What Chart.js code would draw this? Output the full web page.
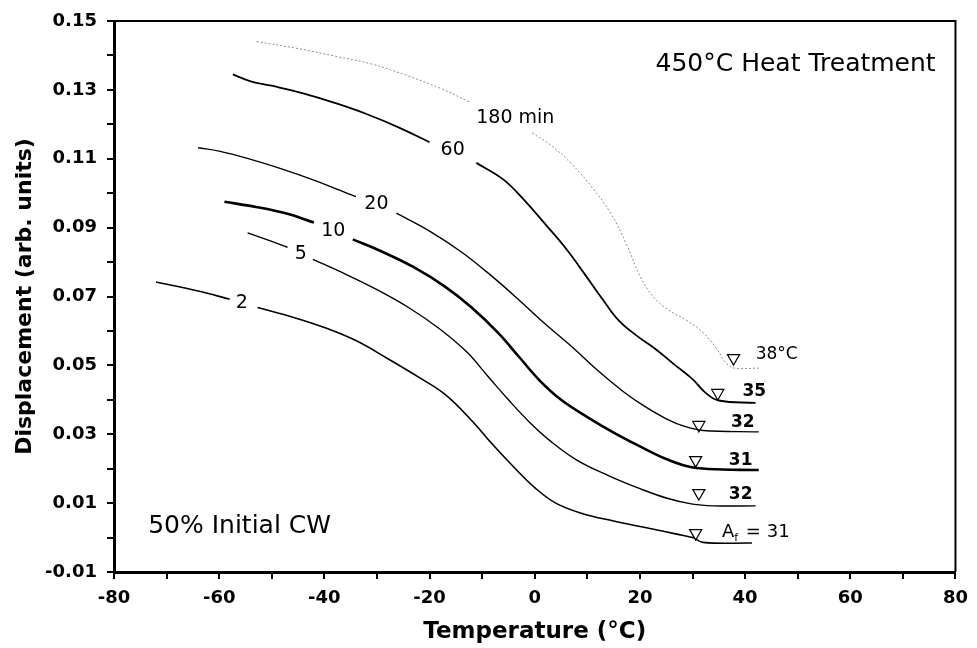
<!DOCTYPE html>
<html>
<head>
<meta charset="utf-8">
<script src="https://cdn.jsdelivr.net/npm/chart.js@4"></script>
<style>
    body { margin: 0; background: #fff; }
    #wrap { width: 977px; height: 648px; }
</style>
</head>
<body>
<div id="wrap"><canvas id="c"></canvas></div>
<script>
// curves: temperature (°C) and displacement, null = gap for the label
const t2X = [-72, -64, -58, -55.7, -52.7, -46, -40, -34, -28, -22, -17, -12, -8, -4, 0, 4, 9, 15, 21, 27, 30, 32, 41.3];
const t2Y = [0.0742, 0.0716, 0.0692, null, 0.0668, 0.0640, 0.0610, 0.0572, 0.0520, 0.0465, 0.0415, 0.0340, 0.0270, 0.0205, 0.0145, 0.0100, 0.0070, 0.0048, 0.0029, 0.0010, 0.0000, -0.0014, -0.0016];

const t5X = [-54.6, -50, -47, -44.5, -42.2, -36, -30, -24, -18, -13, -9, -5, -1, 3, 8, 14, 20, 25, 30, 34, 42];
const t5Y = [0.0885, 0.0860, 0.0843, null, 0.0808, 0.0765, 0.0720, 0.0668, 0.0605, 0.0540, 0.0470, 0.0400, 0.0335, 0.0280, 0.0225, 0.0180, 0.0142, 0.0115, 0.0097, 0.0092, 0.0092];

const t10X = [-59, -53, -47, -42, -38.3, -34.6, -29, -23, -17, -12, -7, -3, 1, 5, 10, 15, 20, 25, 29, 33, 42.6];
const t10Y = [0.0975, 0.0960, 0.0940, 0.0915, null, 0.0866, 0.0830, 0.0785, 0.0728, 0.0668, 0.0595, 0.0525, 0.0455, 0.0400, 0.0350, 0.0305, 0.0265, 0.0228, 0.0207, 0.0199, 0.0196];

const t20X = [-64, -60, -54, -48, -42, -37, -34, -30.1, -26.3, -20, -14, -8, -3, 2, 7, 12, 17, 21, 25, 28.5, 32, 42.6];
const t20Y = [0.1132, 0.1122, 0.1098, 0.1070, 0.1038, 0.1008, 0.0990, null, 0.0942, 0.0890, 0.0830, 0.0757, 0.0690, 0.0620, 0.0555, 0.0485, 0.0422, 0.0380, 0.0345, 0.0323, 0.0311, 0.0307];

const t60X = [-57.4, -54, -50, -44, -38, -32, -26, -20, -15.6, -11.1, -6, -2, 2, 6, 9.5, 13, 16, 19.5, 23, 26.5, 30, 32.5, 35, 42];
const t60Y = [0.1345, 0.1325, 0.1312, 0.1290, 0.1262, 0.1230, 0.1192, 0.1148, null, 0.1088, 0.1040, 0.0980, 0.0910, 0.0838, 0.0765, 0.0690, 0.0630, 0.0585, 0.0547, 0.0503, 0.0460, 0.0420, 0.0398, 0.0391];

const t180X = [-52.9, -45, -38, -31, -24, -18, -12.4, -5, -0.5, 3, 7, 11, 14.5, 17.5, 20, 22.5, 25.5, 29, 32, 34.5, 36.5, 38, 42.6];
const t180Y = [0.1440, 0.1420, 0.1398, 0.1375, 0.1340, 0.1305, 0.1265, null, 0.1175, 0.1140, 0.1085, 0.1015, 0.0940, 0.0850, 0.0760, 0.0700, 0.0660, 0.0630, 0.0595, 0.0550, 0.0505, 0.0492, 0.0492];

// A_f markers (open triangles)
const afX = [30.6, 31.2, 30.6, 31.2, 34.8, 37.8];
const afY = [0.0013, 0.0129, 0.0225, 0.0327, 0.0420, 0.0521];

// labels
const curveNames = ['2', '5', '10', '20', '60', '180 min'];
const curveNameX = [-55.7, -44.5, -38.3, -30.1, -15.6, -3.7];
const curveNameY = [0.0681, 0.0823, 0.0890, 0.0969, 0.1124, 0.1217];
const afNames = ['32', '31', '32', '35'];
const afNameX = [36.9, 36.9, 37.3, 39.5];
const afNameY = [0.0124, 0.0225, 0.0333, 0.0423];

function pts(xs, ys) {
    return xs.map((x, i) => ({ x: x, y: ys[i] }));
}

function curve(xs, ys, w, color, dash) {
    return {
        data: pts(xs, ys),
        borderColor: color || '#000',
        borderWidth: w,
        borderDash: dash || [],
        pointRadius: 0,
        tension: 0.4,
        spanGaps: false
    };
}

const FONT = '"DejaVu Sans", Verdana, sans-serif';

const textPlugin = {
    id: 'texts',
    afterDraw(chart) {
        const { ctx, chartArea: a, scales } = chart;
        const px = v => scales.x.getPixelForValue(v);
        const py = v => scales.y.getPixelForValue(v);
        ctx.save();

        // close the frame (top + right)
        ctx.strokeStyle = '#000';
        ctx.lineWidth = 2;
        ctx.beginPath();
        ctx.moveTo(a.left, a.top);
        ctx.lineTo(a.right, a.top);
        ctx.lineTo(a.right, a.bottom);
        ctx.stroke();

        ctx.fillStyle = '#000';
        ctx.textBaseline = 'middle';

        ctx.font = '19px ' + FONT;
        ctx.textAlign = 'center';
        curveNames.forEach((t, i) => ctx.fillText(t, px(curveNameX[i]), py(curveNameY[i])));

        ctx.textAlign = 'left';
        ctx.font = 'bold 17px ' + FONT;
        afNames.forEach((t, i) => ctx.fillText(t, px(afNameX[i]), py(afNameY[i])));

        ctx.font = '17px ' + FONT;
        ctx.fillText('38°C', px(42), py(0.0530));

        // A_f = 31 with subscript
        let x0 = px(35.6), y0 = py(0.0016);
        ctx.font = '18px ' + FONT;
        ctx.fillText('A', x0, y0);
        let w = ctx.measureText('A').width;
        ctx.font = '11px ' + FONT;
        ctx.fillText('f', x0 + w, y0 + 6);
        w += ctx.measureText('f').width + 2;
        ctx.font = '18px ' + FONT;
        ctx.fillText(' = 31', x0 + w, y0);

        ctx.font = '25px ' + FONT;
        ctx.textAlign = 'center';
        ctx.fillText('450°C Heat Treatment', px(49.6), py(0.1374));
        ctx.textAlign = 'left';
        ctx.fillText('50% Initial CW', px(-73.5), py(0.0033));

        ctx.restore();
    }
};

new Chart(document.getElementById('c'), {
    type: 'line',
    data: {
        datasets: [
            curve(t2X, t2Y, 1.6),
            curve(t5X, t5Y, 1.4),
            curve(t10X, t10Y, 2.6),
            curve(t20X, t20Y, 1.4),
            curve(t60X, t60Y, 1.8),
            curve(t180X, t180Y, 1, '#8a8a8a', [2, 2]),
            {
                data: pts(afX, afY),
                showLine: false,
                pointStyle: 'triangle',
                rotation: 180,
                pointRadius: 7,
                pointBorderWidth: 1.2,
                pointBorderColor: '#000',
                pointBackgroundColor: '#fff'
            }
        ]
    },
    options: {
        responsive: true,
        maintainAspectRatio: false,
        animation: false,
        layout: { padding: { left: 0, right: 19, top: 21, bottom: 0 } },
        plugins: { legend: { display: false }, tooltip: { enabled: false } },
        scales: {
            x: {
                type: 'linear',
                min: -80, max: 80,
                afterFit: s => { s.height = 76; },
                ticks: {
                    stepSize: 10,
                    autoSkip: false,
                    maxRotation: 0,
                    padding: 9,
                    color: '#000',
                    font: { family: FONT, size: 18, weight: 'bold' },
                    callback: v => (v % 20 === 0 ? v : '')
                },
                grid: { drawOnChartArea: false, color: '#000', tickLength: 7, lineWidth: 2 },
                border: { color: '#000', width: 3 },
                title: {
                    display: true,
                    text: 'Temperature (°C)',
                    color: '#000',
                    font: { family: FONT, size: 23, weight: 'bold' },
                    padding: { top: 0, bottom: 2 }
                }
            },
            y: {
                min: -0.01, max: 0.15,
                afterFit: s => { s.width = 114; },
                ticks: {
                    stepSize: 0.01,
                    autoSkip: false,
                    padding: 10,
                    color: '#000',
                    font: { family: FONT, size: 18, weight: 'bold' },
                    callback: v => (Math.abs(Math.round(v * 100)) % 2 === 1 ? v.toFixed(2) : '')
                },
                grid: { drawOnChartArea: false, color: '#000', tickLength: 7, lineWidth: 2 },
                border: { color: '#000', width: 3 },
                title: {
                    display: true,
                    text: 'Displacement (arb. units)',
                    color: '#000',
                    font: { family: FONT, size: 22, weight: 'bold' },
                    padding: { top: 12, bottom: 0 }
                }
            }
        }
    },
    plugins: [textPlugin]
});
</script>
</body>
</html>
